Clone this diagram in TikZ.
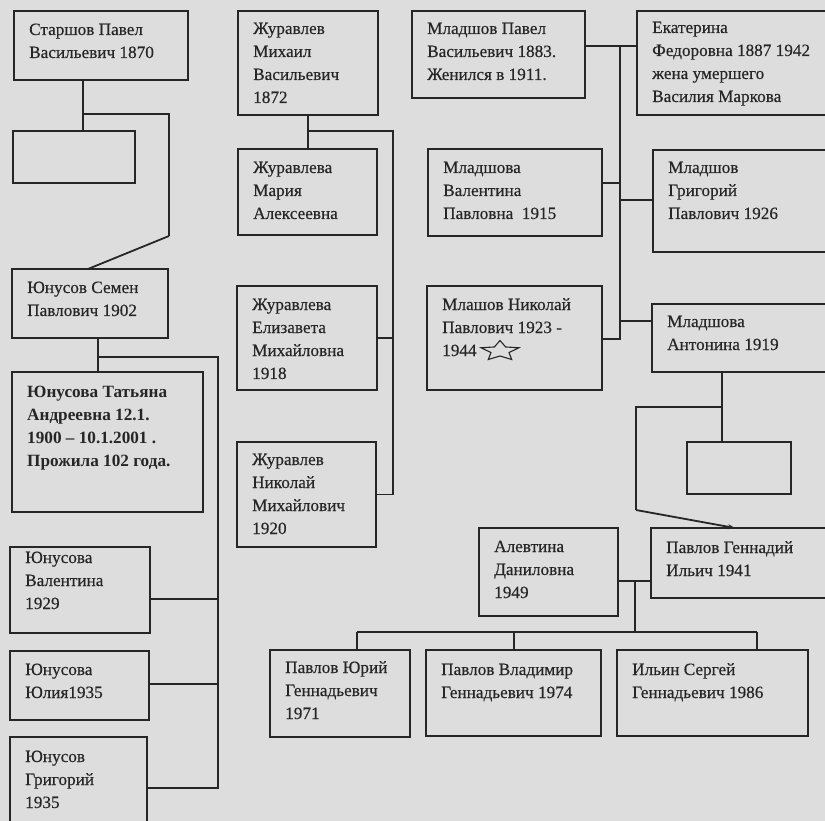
\documentclass[tikz,border=0pt]{standalone}
\usepackage{fontspec}
\setmainfont{Liberation Serif}[UprightFeatures={FakeBold=0.4}]
\usetikzlibrary{shapes.geometric,arrows.meta}
\definecolor{bg}{RGB}{221,221,221}
\definecolor{ink}{RGB}{38,38,38}
\tikzset{
  pbox/.style={draw=ink, line width=1.5pt, anchor=north west, inner sep=0pt, outer sep=0pt},
  ptxt/.style={anchor=base west, inner sep=0pt, text=ink, font=\fontsize{17.2}{23}\selectfont},
  conn/.style={draw=ink, line width=1.4pt},
  diag/.style={draw=ink, line width=1.8pt},
}
% [baseline offset]{name}{x1}{y1}{x2}{y2}{text}
\newcommand{\famb}[7][24]{%
  \node[pbox, minimum width={(#5-#3)*1pt}, minimum height={(#6-#4)*1pt}] (#2) at (#3,#4) {};
  \node[ptxt] (#2t) at (#3+15,#4+#1) {\begin{tabular}[t]{@{}l@{}}#7\end{tabular}};
}
\begin{document}
\begin{tikzpicture}[x=1pt,y=-1pt]
\useasboundingbox (0,0) rectangle (825,821);
\fill[bg] (0,0) rectangle (825,821);
\clip (0,0) rectangle (825,821);
% column 1
\famb{A}{14}{11}{188}{80}{Старшов Павел\\Васильевич 1870}
\famb{E1}{13}{131}{135}{183}{}
\famb{S}{12}{269}{168}{338}{Юнусов Семен\\Павлович 1902}
\famb[25]{T}{12}{372}{203}{512}{\bfseries Юнусова Татьяна\\\bfseries Андреевна 12.1.\\\bfseries 1900 – 10.1.2001 .\\\bfseries Прожила 102 года.}
\famb[16]{YV}{10}{547}{150}{633}{Юнусова\\Валентина\\1929}
\famb{YY}{10}{651}{149}{720}{Юнусова\\Юлия1935}
\famb[25]{YG}{10}{737}{147}{835}{Юнусов\\Григорий\\1935}
% column 2
\famb[23]{M}{238}{11}{378}{115}{Журавлев\\Михаил\\Васильевич\\1872}
\famb{MA}{238}{149}{377}{235}{Журавлева\\Мария\\Алексеевна}
\famb{EZ}{237}{286}{377}{390}{Журавлева\\Елизавета\\Михайловна\\1918}
\famb[23]{NZ}{237}{442}{376}{547}{Журавлев\\Николай\\Михайлович\\1920}
% column 3
\famb[23]{P}{412}{11}{585}{98}{Младшов Павел\\Васильевич 1883.\\Женился в 1911.}
\famb[22]{K}{637}{11}{835}{115}{Екатерина\\Федоровна 1887 1942\\жена умершего\\Василия Маркова}
\famb{V}{428}{149}{602}{236}{Младшова\\Валентина\\Павловна\ \ 1915}
\famb[23]{G}{653}{150}{835}{252}{Младшов\\Григорий\\Павлович 1926}
\famb{N}{427}{286}{602}{390}{Млашов Николай\\Павлович 1923 -\\1944}
\node[draw=ink, star, star points=5, star point ratio=2.1, minimum size=21pt, inner sep=0pt, line width=1.1pt, xscale=1.9, transform shape] (Nstar) at (500,351) {};
\famb[23]{AN}{652}{304}{835}{372}{Младшова\\Антонина 1919}
\famb{E2}{687}{442}{791}{494}{}
\famb{AL}{479}{528}{618}{616}{Алевтина\\Даниловна\\1949}
\famb[25]{PG}{651}{528}{835}{598}{Павлов Геннадий\\Ильич 1941}
\famb[23]{PY}{270}{650}{410}{737}{Павлов Юрий\\Геннадьевич\\1971}
\famb[25]{PV}{426}{650}{601}{736}{Павлов Владимир\\Геннадьевич 1974}
\famb[25]{IS}{617}{650}{808}{736}{Ильин Сергей\\Геннадьевич 1986}
% connectors: Starshov
\coordinate (j1) at (83,114);
\coordinate (j1r) at (169,114);
\coordinate (j1d) at (169,236);
\draw[conn] (A.south -| j1) -- (j1) -- (E1.north -| j1);
\draw[conn] (j1) -- (j1r) -- (j1d);
\draw[diag] (j1d) -- ([xshift=76pt]S.north west);
% Zhuravlev
\coordinate (j2) at (308,131);
\coordinate (j2r) at (393,131);
\draw[conn] (M.south -| j2) -- (MA.north -| j2);
\draw[conn] (j2) -- (j2r) -- (j2r |- NZ.east) -- (NZ.east);
\draw[conn] (EZ.east) -- (EZ.east -| j2r);
% Mladshov
\coordinate (j3) at (620,46);
\coordinate (j3b) at (620,339);
\coordinate (t1) at (620,183);
\coordinate (t2) at (620,200);
\coordinate (t3) at (620,321);
\draw[conn] (P.east |- j3) -- (K.west |- j3);
\draw[conn] (j3) -- (j3b) -- (N.east |- j3b);
\draw[conn] (V.east |- t1) -- (t1);
\draw[conn] (t2) -- (G.west |- t2);
\draw[conn] (t3) -- (AN.west |- t3);
% Yunusov
\coordinate (j4) at (98,357);
\coordinate (j4r) at (218,357);
\coordinate (j4b) at (218,788);
\coordinate (t4) at (218,599);
\coordinate (t5) at (218,684);
\draw[conn] (S.south -| j4) -- (T.north -| j4);
\draw[conn] (j4) -- (j4r) -- (j4b) -- (YG.east |- j4b);
\draw[conn] (YV.east |- t4) -- (t4);
\draw[conn] (YY.east |- t5) -- (t5);
% Antonina
\coordinate (j5) at (722,407);
\coordinate (j5l) at (636,407);
\coordinate (j5b) at (636,510);
\draw[conn] (AN.south -| j5) -- (E2.north -| j5);
\draw[conn] (j5) -- (j5l) -- (j5b);
\draw[diag, -{Stealth[length=7pt,width=5pt]}] (j5b) -- ([xshift=84pt]PG.north west);
% Pavlov
\coordinate (j6) at (635,581);
\coordinate (j6b) at (635,632);
\coordinate (h1) at (357,632);
\coordinate (h2) at (514,632);
\coordinate (h3) at (757,632);
\draw[conn] (AL.east |- j6) -- (PG.west |- j6);
\draw[conn] (j6) -- (j6b);
\draw[conn] (h1) -- (h3);
\draw[conn] (h1) -- (PY.north -| h1);
\draw[conn] (h2) -- (PV.north -| h2);
\draw[conn] (h3) -- (IS.north -| h3);
\end{tikzpicture}
\end{document}
